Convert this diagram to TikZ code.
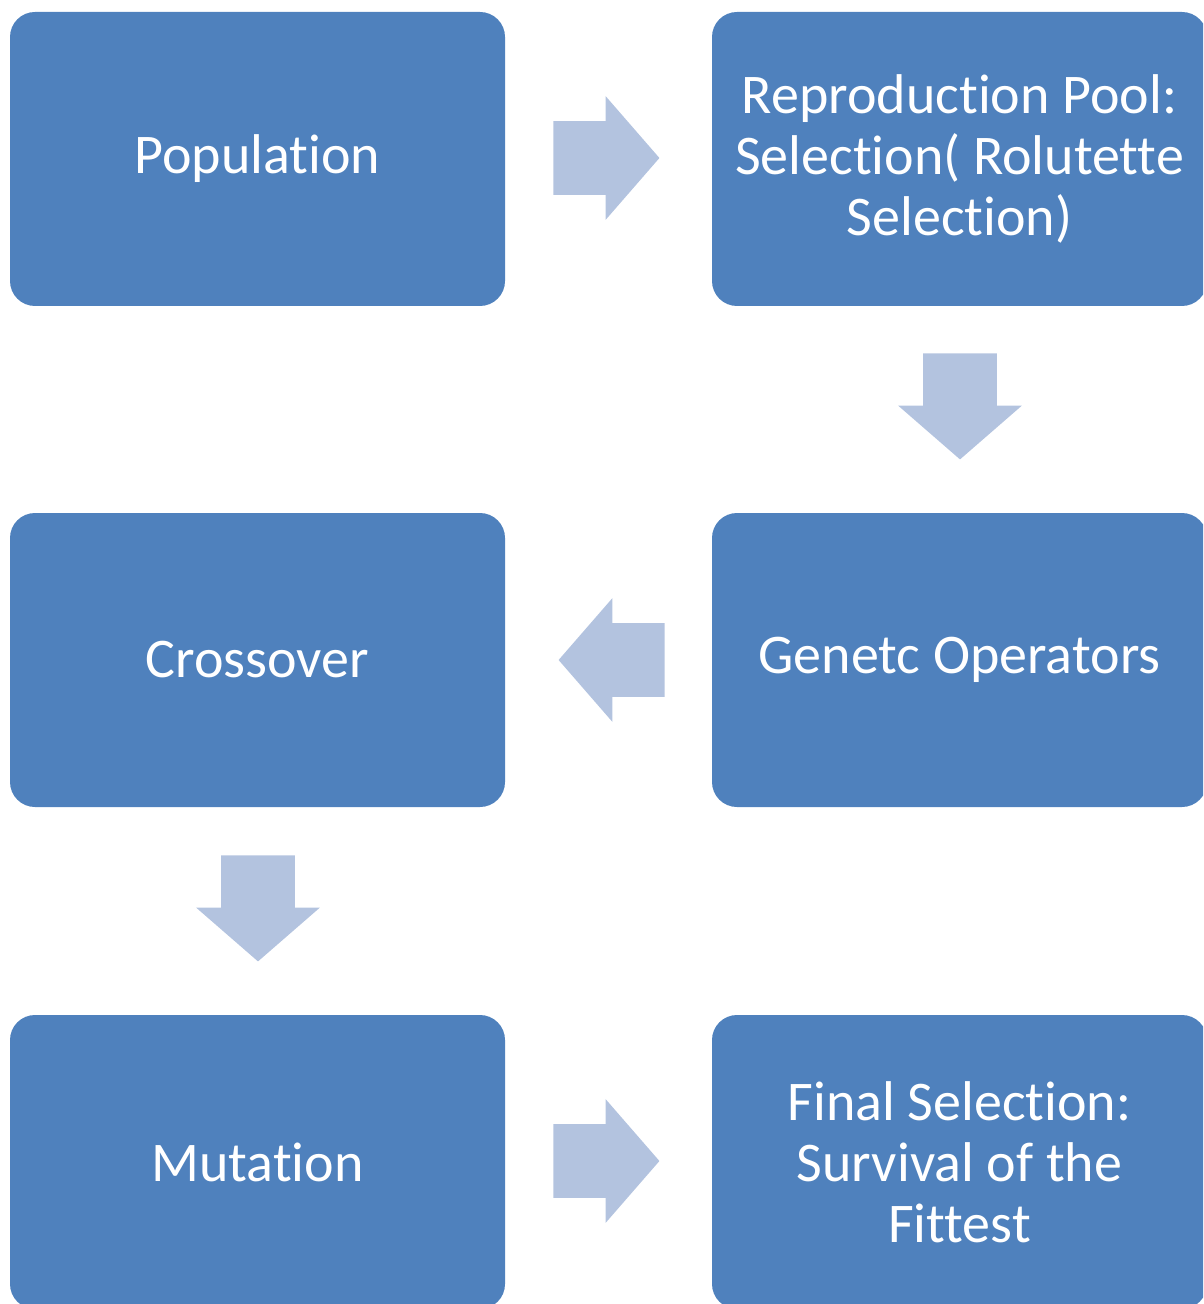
\documentclass[tikz,border=0pt]{standalone}
\usepackage{fontspec}
\setmainfont{Carlito}[Ligatures=NoCommon]
\usetikzlibrary{shapes.arrows}

\definecolor{boxblue}{HTML}{4F81BD}
\definecolor{arrowblue}{HTML}{B3C3DF}

\begin{document}
\begin{tikzpicture}[
  x=0.5pt, y=-0.5pt,
  stagebox/.style={
    rounded corners=12.5pt,
    fill=boxblue,
    text=white,
    minimum width=247.5pt,
    minimum height=147pt,
    text width=240pt,
    align=flush center,
    inner sep=0pt,
    font=\fontsize{28}{30.5}\selectfont
  },
  blockarrow/.style={
    single arrow,
    fill=arrowblue,
    anchor=tail,
    inner xsep=0pt,
    inner ysep=18.25pt,
    minimum width=61.5pt,
    minimum height=53pt,
    single arrow head extend=12.5pt,
    single arrow tip angle=98
  },
  downarrow/.style={
    blockarrow,
    inner xsep=18.25pt,
    inner ysep=0pt,
    shape border rotate=270
  }
]
\useasboundingbox (0,0) rectangle (1203,1304);
\clip (0,0) rectangle (1203,1304);

% boxes
\node[stagebox] (population) at (257.5,159) {Population};
\node[stagebox] (pool) at (959.5,159)
  {Reproduction Pool:\\Selection( Rolutette\\Selection)};
\node[stagebox] (operators) at (959.5,660) {Genetc Operators};
\node[stagebox] (crossover) at (257.5,660) {Crossover};
\node[stagebox] (mutation) at (257.5,1162) {Mutation};
\node[stagebox] (final) at (959.5,1162)
  {Final Selection:\\Survival of the\\Fittest};

% block arrows
\node[blockarrow] (arrow1) at (553,158) {};
\node[downarrow] (arrow2) at (960,353) {};
\node[blockarrow, shape border rotate=180] (arrow3) at (665,660) {};
\node[downarrow] (arrow4) at (258,855) {};
\node[blockarrow] (arrow5) at (553,1161) {};
\end{tikzpicture}
\end{document}
